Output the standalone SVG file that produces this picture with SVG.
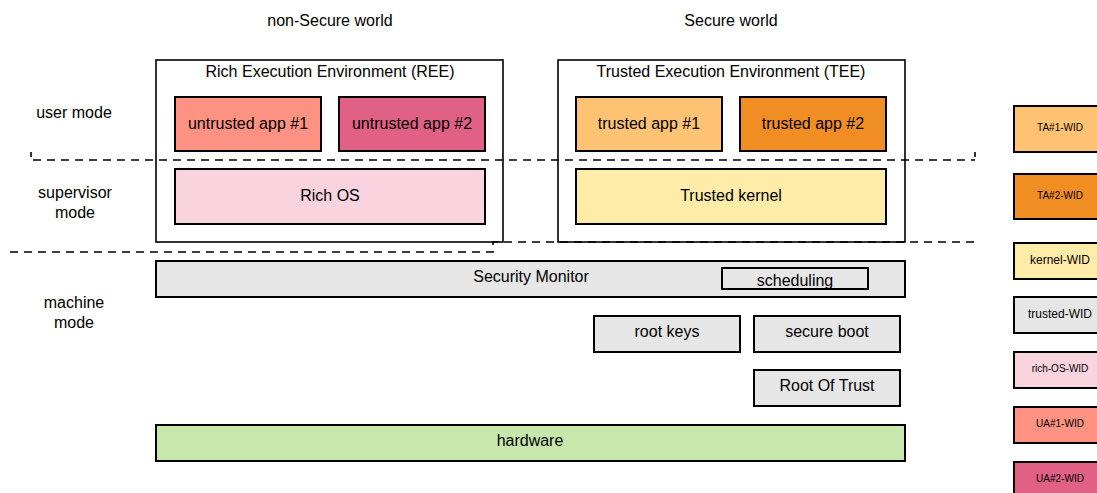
<svg xmlns="http://www.w3.org/2000/svg" width="1097" height="493" viewBox="0 0 1097 493">
<style>
text{font-family:"Liberation Sans",Arial,sans-serif;fill:#000;text-anchor:middle;dominant-baseline:central}
.t{font-size:16px}
.s{font-size:10px}
.m{font-size:12px}
.box{stroke:#000;stroke-width:2}
.outer{fill:#fff;stroke:#000;stroke-width:1.6}
.dash{fill:none;stroke:#000;stroke-width:1.6;stroke-dasharray:8 6}
</style>
<rect width="1097" height="493" fill="#fff"/>
<g id="labels">
<text class="t" x="330" y="20">non-Secure world</text>
<text class="t" x="731" y="20">Secure world</text>
<text class="t" x="74" y="112">user mode</text>
<text class="t" x="75" y="192">supervisor</text>
<text class="t" x="75" y="212">mode</text>
<text class="t" x="74" y="302">machine</text>
<text class="t" x="74" y="322">mode</text>
</g>
<g id="ree"><rect class="outer" x="156" y="60" width="347" height="182"/><text class="t" x="330" y="71">Rich Execution Environment (REE)</text></g>
<g id="tee"><rect class="outer" x="558" y="60" width="347" height="182"/><text class="t" x="731" y="71">Trusted Execution Environment (TEE)</text></g>
<g id="ua1"><rect class="box" x="175" y="97" width="146" height="54" fill="#FF9282"/><text class="t" x="248" y="123">untrusted app #1</text></g>
<g id="ua2"><rect class="box" x="339" y="97" width="146" height="54" fill="#E06086"/><text class="t" x="412" y="123">untrusted app #2</text></g>
<g id="richos"><rect class="box" x="175" y="169" width="310" height="55" fill="#F9D3DE"/><text class="t" x="330" y="195">Rich OS</text></g>
<g id="ta1"><rect class="box" x="576" y="97" width="146" height="54" fill="#FFC373"/><text class="t" x="649" y="123">trusted app #1</text></g>
<g id="ta2"><rect class="box" x="740" y="97" width="146" height="54" fill="#F08E24"/><text class="t" x="813" y="123">trusted app #2</text></g>
<g id="tkernel"><rect class="box" x="576" y="169" width="310" height="55" fill="#FFECA8"/><text class="t" x="731" y="195">Trusted kernel</text></g>
<g id="monitor"><rect class="box" x="156" y="261" width="749" height="36" fill="#E6E6E6"/><text class="t" x="531" y="276">Security Monitor</text></g>
<g id="scheduling"><rect class="box" x="722" y="268" width="146" height="21" fill="#E6E6E6"/><text class="t" x="795" y="280">scheduling</text></g>
<g id="rootkeys"><rect class="box" x="594" y="316" width="146" height="36" fill="#E6E6E6"/><text class="t" x="667" y="331">root keys</text></g>
<g id="secureboot"><rect class="box" x="754" y="316" width="146" height="36" fill="#E6E6E6"/><text class="t" x="827" y="331">secure boot</text></g>
<g id="rot"><rect class="box" x="754" y="370" width="146" height="36" fill="#E6E6E6"/><text class="t" x="827" y="385">Root Of Trust</text></g>
<g id="hardware"><rect class="box" x="156" y="425" width="749" height="36" fill="#C7E8AC"/><text class="t" x="530" y="440">hardware</text></g>
<g id="connectors">
<path class="dash" d="M33 160H975"/>
<path d="M31 152V157M975 152V157" stroke="#000" stroke-width="1.6"/>
<path class="dash" d="M10 252H493V242H975"/>
</g>
<g id="legend">
<g id="l-ta1"><rect class="box" x="1014" y="106" width="92" height="46" fill="#FFC373"/><text class="s" x="1060" y="127">TA#1-WID</text></g>
<g id="l-ta2"><rect class="box" x="1014" y="174" width="92" height="45" fill="#F08E24"/><text class="s" x="1060" y="195">TA#2-WID</text></g>
<g id="l-kernel"><rect class="box" x="1014" y="243" width="92" height="36" fill="#FFECA8"/><text class="m" x="1060" y="260">kernel-WID</text></g>
<g id="l-trusted"><rect class="box" x="1014" y="297" width="92" height="36" fill="#E6E6E6"/><text class="m" x="1060" y="314">trusted-WID</text></g>
<g id="l-richos"><rect class="box" x="1014" y="352" width="92" height="36" fill="#F9D3DE"/><text class="s" x="1060" y="368">rich-OS-WID</text></g>
<g id="l-ua1"><rect class="box" x="1014" y="407" width="92" height="36" fill="#FF9282"/><text class="s" x="1060" y="423">UA#1-WID</text></g>
<g id="l-ua2"><rect class="box" x="1014" y="462" width="92" height="36" fill="#E06086"/><text class="s" x="1060" y="478">UA#2-WID</text></g>
</g>
</svg>
